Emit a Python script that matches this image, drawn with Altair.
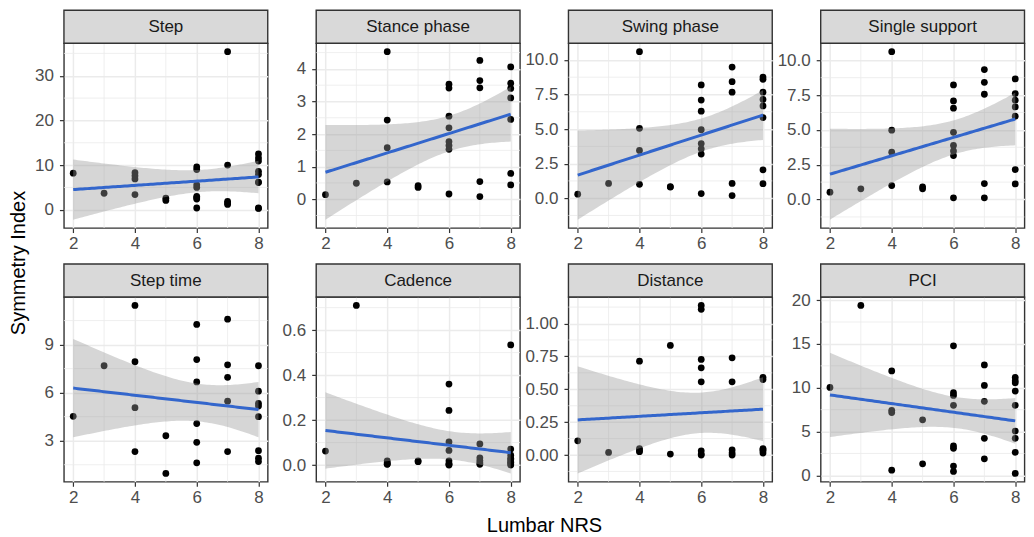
import altair as alt
import numpy as np
import pandas as pd

FONT = "Liberation Sans"

panel_names = ["Step", "Stance phase", "Swing phase", "Single support",
               "Step time", "Cadence", "Distance", "PCI"]

step_x = [2, 3, 4, 4, 4, 4, 5, 5, 6, 6, 6, 6, 6, 6, 6, 6, 7, 7, 7, 7, 7,
          8, 8, 8, 8, 8, 8, 8, 8, 8]
step_y = [8.2, 3.7, 8.3, 7.6, 6.9, 3.4, 2.6, 2.1, 9.6, 9.0, 5.6, 5.0, 3.0, 2.7, 2.4, 0.4,
          35.4, 10.0, 1.9, 1.5, 1.2, 12.5, 11.6, 10.9, 8.6, 7.9, 6.2, 6.1, 0.4, 0.3]

stance_x = [2, 3, 4, 4, 4, 4, 5, 5, 6, 6, 6, 6, 6, 6, 6, 6, 7, 7, 7, 7, 7, 8, 8, 8, 8, 8, 8, 8]
stance_y = [0.14, 0.49, 4.53, 2.43, 1.58, 0.53, 0.42, 0.36, 3.53, 3.41, 2.55, 2.19, 1.77,
            1.65, 1.53, 0.16, 4.26, 3.64, 3.42, 0.54, 0.08, 4.06, 3.56, 3.40, 3.11, 2.45,
            0.79, 0.44]

swing_x = [2, 3, 4, 4, 4, 4, 5, 5, 6, 6, 6, 6, 6, 6, 6, 6, 7, 7, 7, 7, 7, 8, 8, 8, 8, 8, 8, 8, 8]
swing_y = [0.29, 1.07, 10.6, 5.05, 3.45, 1.0, 0.83, 0.80, 8.19, 7.1, 6.29, 4.95, 3.95, 3.57,
           3.19, 0.33, 9.48, 8.43, 7.67, 1.07, 0.19, 8.76, 8.6, 7.67, 7.14, 6.67, 5.83,
           2.05, 1.05]

single_x = [2, 3, 4, 4, 4, 4, 5, 5, 6, 6, 6, 6, 6, 6, 6, 6, 7, 7, 7, 7, 7, 8, 8, 8, 8, 8, 8, 8]
single_y = [0.53, 0.77, 10.62, 4.98, 3.40, 1.0, 0.91, 0.77, 8.23, 7.08, 6.56, 4.83, 3.88,
            3.49, 3.16, 0.12, 9.33, 8.42, 7.56, 1.15, 0.12, 8.66, 7.61, 7.13, 6.65, 5.98,
            2.15, 1.12]

steptime_x = [2, 3, 4, 4, 4, 4, 5, 5, 6, 6, 6, 6, 6, 6, 7, 7, 7, 7, 7, 8, 8, 8, 8, 8, 8, 8, 8]
steptime_y = [4.52, 7.68, 11.45, 7.93, 5.06, 2.32, 3.31, 0.96, 10.26, 8.07, 6.67, 4.07,
              2.90, 1.62, 10.59, 7.74, 6.96, 5.47, 2.32, 7.68, 6.09, 5.33, 5.16, 4.50,
              2.38, 1.91, 1.70]

cadence_x = [2, 3, 4, 4, 4, 4, 5, 5, 6, 6, 6, 6, 6, 6, 6, 6, 7, 7, 7, 7, 7,
             8, 8, 8, 8, 8, 8, 8, 8, 8]
cadence_y = [0.062, 0.71, 0.019, 0.01, 0.005, 0.003, 0.019, 0.015, 0.36, 0.243, 0.103,
             0.065, 0.019, 0.007, 0.002, 0.0, 0.094, 0.032, 0.02, 0.01, 0.003,
             0.534, 0.071, 0.044, 0.03, 0.025, 0.015, 0.012, 0.005, 0.0]

distance_x = [2, 3, 4, 4, 4, 4, 5, 5, 6, 6, 6, 6, 6, 6, 6, 6, 7, 7, 7, 7, 7,
              8, 8, 8, 8, 8, 8]
distance_y = [0.108, 0.02, 0.714, 0.049, 0.035, 0.025, 0.833, 0.007, 1.138, 1.108, 0.727,
              0.663, 0.557, 0.032, 0.007, 0.0, 0.739, 0.557, 0.039, 0.015, 0.0,
              0.591, 0.574, 0.049, 0.04, 0.032, 0.015]

pci_x = [2, 3, 4, 4, 4, 4, 5, 5, 6, 6, 6, 6, 6, 6, 6, 6, 7, 7, 7, 7, 7, 8, 8, 8, 8, 8, 8, 8, 8, 8]
pci_y = [10.04, 19.4, 11.92, 7.43, 7.17, 0.60, 6.34, 1.32, 14.79, 9.43, 9.13, 8.0, 3.36,
         3.09, 1.06, 0.45, 12.6, 10.26, 8.45, 4.23, 1.89, 11.17, 10.79, 10.57, 9.62, 8.0,
         5.06, 4.23, 2.64, 0.23]

x_ticks = [2, 4, 6, 8]
x_minor = [3, 5, 7]

y_ticks = {
    "Step": [0, 10, 20, 30],
    "Stance phase": [0, 1, 2, 3, 4],
    "Swing phase": [0, 2.5, 5, 7.5, 10],
    "Single support": [0, 2.5, 5, 7.5, 10],
    "Step time": [3, 6, 9],
    "Cadence": [0, 0.2, 0.4, 0.6],
    "Distance": [0, 0.25, 0.5, 0.75, 1.0],
    "PCI": [0, 5, 10, 15, 20],
}
y_fmt = {"Step": "d", "Stance phase": "d", "Swing phase": ".1f", "Single support": ".1f",
         "Step time": "d", "Cadence": ".1f", "Distance": ".2f", "PCI": "d"}

series = {
    "Step": (step_x, step_y), "Stance phase": (stance_x, stance_y),
    "Swing phase": (swing_x, swing_y), "Single support": (single_x, single_y),
    "Step time": (steptime_x, steptime_y), "Cadence": (cadence_x, cadence_y),
    "Distance": (distance_x, distance_y), "PCI": (pci_x, pci_y),
}

x_title = "Lumbar NRS"
y_title = "Symmetry Index"


def t_quantile(df):
    z = 1.959963985
    g1 = (z**3 + z) / 4
    g2 = (5 * z**5 + 16 * z**3 + 3 * z) / 96
    g3 = (3 * z**7 + 19 * z**5 + 17 * z**3 - 15 * z) / 384
    return z + g1 / df + g2 / df**2 + g3 / df**3


def smooth(xs, ys):
    x = np.asarray(xs, float)
    y = np.asarray(ys, float)
    n = len(x)
    xm = x.mean()
    sxx = ((x - xm) ** 2).sum()
    b = ((x - xm) * (y - y.mean())).sum() / sxx
    a = y.mean() - b * xm
    s = np.sqrt(((y - (a + b * x)) ** 2).sum() / (n - 2))
    g = np.linspace(min(xs), max(xs), 80)
    fit = a + b * g
    se = s * np.sqrt(1.0 / n + (g - xm) ** 2 / sxx)
    t = t_quantile(n - 2)
    return pd.DataFrame({"x": g, "fit": fit, "lo": fit - t * se, "hi": fit + t * se})


W = 204
H = 185
SH = 33
COL_GAP = 48.5
ROW_GAP = 69
GRID = "#EBEBEB"


def make_panel(idx, name):
    xs, ys = series[name]
    pts = pd.DataFrame({"x": xs, "y": ys})
    band = smooth(xs, ys)
    lo = min(min(ys), band["lo"].min())
    hi = max(max(ys), band["hi"].max())
    pad = (hi - lo) * 0.05
    ydom = [lo - pad, hi + pad]
    xr = max(xs) - min(xs)
    xdom = [min(xs) - 0.05 * xr, max(xs) + 0.05 * xr]
    ticks = y_ticks[name]
    stp = ticks[1] - ticks[0]
    cand = [ticks[0] - stp / 2] + [t + stp / 2 for t in ticks]
    yminor = [v for v in cand if ydom[0] < v < ydom[1]]

    xaxis = alt.Axis(values=x_ticks, format="d", grid=True, labelPadding=3)
    yaxis = alt.Axis(values=ticks, format=y_fmt[name], grid=True, labelPadding=6)
    xs_ = alt.Scale(domain=xdom, nice=False, zero=False)
    ys_ = alt.Scale(domain=ydom, nice=False, zero=False)

    def bx(f):
        return alt.X(f, scale=xs_, axis=xaxis, title=None)

    def by(f):
        return alt.Y(f, scale=ys_, axis=yaxis, title=None)

    minor_x = alt.Chart(pd.DataFrame({"v": x_minor})).mark_rule(
        color=GRID, strokeWidth=0.8).encode(x=bx("v:Q"))
    minor_y = alt.Chart(pd.DataFrame({"w": yminor})).mark_rule(
        color=GRID, strokeWidth=0.8).encode(y=by("w:Q"))
    points = alt.Chart(pts).mark_circle(size=46, color="black", opacity=1).encode(
        x=bx("x:Q"), y=by("y:Q"))
    area = alt.Chart(band).mark_area(color="#999999", opacity=0.4).encode(
        x=bx("x:Q"), y=by("lo:Q"), y2="hi:Q")
    line = alt.Chart(band).mark_line(color="#3366CC", strokeWidth=3).encode(
        x=bx("x:Q"), y=by("fit:Q"))

    tdf = pd.DataFrame({"t": [name]})
    strip_box = alt.Chart(tdf).mark_rect(
        fill="#D9D9D9", stroke="#333333", strokeWidth=1.4
    ).encode(x=alt.value(0), x2=alt.value(W), y=alt.value(-SH), y2=alt.value(0))
    strip_txt = alt.Chart(tdf).mark_text(
        font=FONT, fontSize=17, color="#1A1A1A", baseline="middle", align="center"
    ).encode(text="t:N", x=alt.value(W / 2), y=alt.value(-SH / 2 + 0.5))

    layers = [minor_x, minor_y, points, area, line, strip_box, strip_txt]

    if name == "Step time":
        layers.append(alt.Chart(pd.DataFrame({"t": [y_title]})).mark_text(
            font=FONT, fontSize=20, color="black", baseline="middle", align="center",
            angle=270
        ).encode(text="t:N", x=alt.value(-45), y=alt.value(-34)))
    if name == "Distance":
        layers.append(alt.Chart(pd.DataFrame({"t": [x_title]})).mark_text(
            font=FONT, fontSize=20, color="black", baseline="alphabetic", align="center"
        ).encode(text="t:N", x=alt.value(-24), y=alt.value(235)))

    return alt.layer(*layers).properties(
        width=W, height=H,
        view=alt.ViewBackground(fill="white", stroke="#333333", strokeWidth=1.4))


panels = [make_panel(i, n) for i, n in enumerate(panel_names)]

chart = alt.concat(
    *panels, columns=4, spacing={"row": ROW_GAP, "column": COL_GAP}, bounds="flush"
).properties(
    padding=0, background="white"
).configure_axis(
    labelFont=FONT, labelFontSize=17, labelColor="#4D4D4D",
    tickColor="#333333", tickSize=4.5, tickWidth=1.2, domain=False,
    gridColor=GRID, gridWidth=1.5,
)

chart.save("out.html", embed_options={"renderer": "svg", "actions": False})
